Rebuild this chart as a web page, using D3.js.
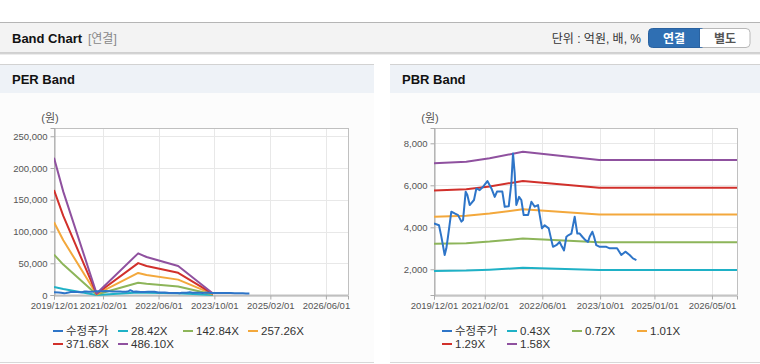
<!DOCTYPE html>
<meta charset="utf-8">
<style>
body { margin: 0; background: #fff; font-family: "Liberation Sans", "Noto Sans CJK KR", sans-serif; }
svg text { font-family: "Liberation Sans", "Noto Sans CJK KR", sans-serif; }
.tick text { fill: #555; font-size: 9.5px; }
.grid line { stroke: #e8e8e8; }
.legend text { fill: #333; font-size: 11.5px; }
</style>
<body>
<svg id="chart" width="760" height="364"></svg>
<script src="https://d3js.org/d3.v7.min.js"></script>
<script>
// ---- data ----
// 수정주가 (adjusted price), shared by both charts
var priceDates = ["2019-12-01","2020-01-12","2020-02-01","2020-02-29","2020-03-14","2020-03-28","2020-04-25","2020-05-23",
  "2020-06-21","2020-07-19","2020-08-02","2020-08-24","2020-09-07","2020-09-27","2020-11-02","2020-11-22","2020-12-20",
  "2021-01-17","2021-02-23","2021-03-29","2021-04-26","2021-05-15","2021-06-29","2021-07-19","2021-08-22","2021-09-13",
  "2021-09-27","2021-10-11","2021-10-25","2021-11-17","2021-12-06","2021-12-26","2022-02-01","2022-03-01","2022-03-29",
  "2022-04-26","2022-05-29","2022-06-21","2022-07-25","2022-08-16","2022-08-30","2022-09-27","2022-10-25","2022-11-14",
  "2022-12-01","2022-12-21","2023-01-09","2023-02-01","2023-03-01","2023-03-23","2023-04-12","2023-05-04","2023-05-30",
  "2023-06-21","2023-07-05","2023-07-28","2023-08-11","2023-08-30","2023-09-28","2023-11-23","2023-12-21","2024-02-21",
  "2024-03-28","2024-05-01","2024-06-06","2024-07-04","2024-08-02"];
var priceValues = [4190,4100,3555,2680,3000,3555,4743,4660,
  4580,4270,4350,5695,5540,5060,5300,5850,5770,
  5930,6200,5850,5450,5700,5700,4980,5000,6110,
  7520,6580,5060,5450,5300,4580,4580,5220,4980,
  5060,3950,4100,3950,3400,3070,3150,3300,3070,
  2900,3550,3630,3700,4500,3700,3700,3550,3390,
  3300,3550,3790,3550,3150,3070,3070,3000,3000,
  2680,2840,2680,2520,2440];

// PER band
var perDates = ["2019-12-01","2020-02-20","2020-12-07","2021-12-05","2022-02-16","2022-11-19","2023-09-19"];
var perLabels = ["28.42X","142.84X","257.26X","371.68X","486.10X"];
var per1 = [12600, 9500, 140, 3800, 3500, 2700, 140];
var per2 = [63600, 47900, 700, 19300, 17600, 13400, 700];
var per3 = [114500, 86200, 1300, 34700, 31600, 24200, 1300];
var per4 = [165400, 124500, 1900, 50200, 45700, 34900, 1900];
var per5 = [216300, 162800, 2400, 65600, 59800, 45700, 2400];
var perTicksY = [0, 50000, 100000, 150000, 200000, 250000];
var perTicksX = ["2019-12-01","2021-02-01","2022-06-01","2023-10-01","2025-02-01","2026-06-01"];

// PBR band
var pbrDates = ["2019-12-01","2020-08-29","2021-03-14","2021-12-19","2023-09-23","2026-12-31"];
var pbrLabels = ["0.43X","0.72X","1.01X","1.29X","1.58X"];
var pbr1 = [1918, 1939, 1983, 2068, 1961, 1961];
var pbr2 = [3212, 3246, 3320, 3463, 3283, 3283];
var pbr3 = [4506, 4554, 4657, 4858, 4606, 4606];
var pbr4 = [5755, 5817, 5948, 6205, 5882, 5882];
var pbr5 = [7048, 7124, 7285, 7600, 7205, 7205];
var pbrTicksY = [2000, 4000, 6000, 8000];
var pbrTicksX = ["2019-12-01","2021-02-01","2022-06-01","2023-10-01","2025-01-01","2026-05-01"];

var colors = ["#2e75c8", "#1fb1c6", "#8db55a", "#f3a83c", "#d1302b", "#8f519f"];

var parse = d3.timeParse("%Y-%m-%d");
var svg = d3.select("#chart");

// ---- page chrome ----
svg.append("rect").attr("x", 0).attr("y", 22).attr("width", 760).attr("height", 31).attr("fill", "#f3f3f3");
svg.append("line").attr("x1", 0).attr("x2", 760).attr("y1", 22.5).attr("y2", 22.5).attr("stroke", "#b5b5b5");
svg.append("line").attr("x1", 0).attr("x2", 760).attr("y1", 53).attr("y2", 53).attr("stroke", "#c4c4c4").attr("stroke-width", 1.5);
svg.append("line").attr("x1", 0).attr("x2", 760).attr("y1", 54.5).attr("y2", 54.5).attr("stroke", "#ececec");
svg.append("text").attr("x", 12).attr("y", 43).attr("font-size", 13).attr("font-weight", "bold").attr("fill", "#111").text("Band Chart");
svg.append("text").attr("x", 88).attr("y", 43).attr("font-size", 12).attr("fill", "#888").text("[연결]");
svg.append("text").attr("x", 641).attr("y", 42.5).attr("font-size", 12).attr("fill", "#333").attr("text-anchor", "end").text("단위 : 억원, 배, %");

var btn = svg.append("g");
btn.append("rect").attr("x", 699).attr("y", 28.5).attr("width", 51).attr("height", 19).attr("rx", 4)
  .attr("fill", "#fff").attr("stroke", "#b8b8b8");
btn.append("rect").attr("x", 648.5).attr("y", 28.5).attr("width", 56).attr("height", 19).attr("rx", 4)
  .attr("fill", "#2f6fb3").attr("stroke", "#2a62a0");
btn.append("rect").attr("x", 699).attr("y", 29).attr("width", 6).attr("height", 18).attr("fill", "#fff");
btn.append("line").attr("x1", 699.5).attr("x2", 699.5).attr("y1", 28.5).attr("y2", 47.5).attr("stroke", "#2a62a0");
btn.append("text").attr("x", 674).attr("y", 42.5).attr("text-anchor", "middle").attr("font-size", 12)
  .attr("font-weight", "bold").attr("fill", "#fff").text("연결");
btn.append("text").attr("x", 725).attr("y", 42.5).attr("text-anchor", "middle").attr("font-size", 12)
  .attr("font-weight", "bold").attr("fill", "#555").text("별도");

// ---- panels ----
function drawPanel(px, pw, title) {
  var g = svg.append("g");
  g.append("rect").attr("x", px).attr("y", 64).attr("width", pw).attr("height", 299).attr("fill", "#fcfcfc");
  g.append("rect").attr("x", px).attr("y", 64).attr("width", pw).attr("height", 29).attr("fill", "#eef2f7");
  g.append("line").attr("x1", px).attr("x2", px + pw).attr("y1", 64.5).attr("y2", 64.5).attr("stroke", "#d2d2d2");
  g.append("line").attr("x1", px).attr("x2", px + pw).attr("y1", 362.5).attr("y2", 362.5).attr("stroke", "#d8d8d8");
  g.append("text").attr("x", px + 12).attr("y", 84).attr("font-size", 13).attr("font-weight", "bold")
    .attr("fill", "#111").text(title);
}
drawPanel(0, 374, "PER Band");
drawPanel(390, 370, "PBR Band");

function drawChart(opt) {
  var x = d3.scaleTime().domain(opt.xDomain.map(parse)).range([opt.x0, opt.x1]);
  var y = d3.scaleLinear().domain(opt.yDomain).range([295, 128]);
  var g = svg.append("g");

  g.append("rect").attr("x", opt.x0).attr("y", 128).attr("width", opt.x1 - opt.x0).attr("height", 167).attr("fill", "#fff");

  var grid = g.append("g").attr("class", "grid");
  grid.selectAll("line.gx").data(opt.ticksX.map(parse)).enter().append("line")
    .attr("x1", function(d) { return Math.round(x(d)) + 0.5; })
    .attr("x2", function(d) { return Math.round(x(d)) + 0.5; })
    .attr("y1", 128).attr("y2", 295);
  grid.selectAll("line.gy").data(opt.ticksY).enter().append("line")
    .attr("x1", opt.x0).attr("x2", opt.x1)
    .attr("y1", function(d) { return Math.round(y(d)) + 0.5; })
    .attr("y2", function(d) { return Math.round(y(d)) + 0.5; });

  g.append("rect").attr("x", opt.x0 + 0.5).attr("y", 128.5).attr("width", opt.x1 - opt.x0).attr("height", 166.5)
    .attr("fill", "none").attr("stroke", "#c0c0c0");

  var xAxis = g.append("g").attr("transform", "translate(0,295.5)")
    .call(d3.axisBottom(x).tickValues(opt.ticksX.map(parse)).tickFormat(d3.timeFormat("%Y/%m/%d")).tickSize(4).tickPadding(3));
  var yAxis = g.append("g").attr("transform", "translate(" + (opt.x0 + 0.5) + ",0)")
    .call(d3.axisLeft(y).tickValues(opt.ticksY).tickFormat(d3.format(",")).tickSize(4).tickPadding(3));
  [xAxis, yAxis].forEach(function(a) {
    a.select(".domain").attr("stroke", "#aaa");
    a.selectAll(".tick line").attr("stroke", "#aaa");
  });

  g.append("text").attr("x", opt.x0 - 4).attr("y", 122).attr("text-anchor", "middle").attr("font-size", 11)
    .attr("fill", "#555").text("(원)");

  var clipId = "clip" + opt.x0;
  g.append("clipPath").attr("id", clipId).append("rect")
    .attr("x", opt.x0).attr("y", 126).attr("width", opt.x1 - opt.x0).attr("height", 170);

  var line = d3.line()
    .x(function(d) { return x(d.date); })
    .y(function(d) { return y(d.value); });

  var plot = g.append("g").attr("clip-path", "url(#" + clipId + ")");
  // bands first, price on top in the PBR chart
  opt.series.forEach(function(s, i) {
    if (i === 0) return;
    var pts = s.dates.map(function(d, j) { return { date: parse(d), value: s.values[j] }; });
    plot.append("path").attr("d", line(pts)).attr("fill", "none")
      .attr("stroke", colors[i]).attr("stroke-width", 2).attr("stroke-linejoin", "round");
  });
  var p0 = opt.series[0];
  plot.append("path")
    .attr("d", line(p0.dates.map(function(d, j) { return { date: parse(d), value: p0.values[j] }; })))
    .attr("fill", "none").attr("stroke", colors[0]).attr("stroke-width", 2).attr("stroke-linejoin", "round");

  // legend
  var lg = g.append("g").attr("class", "legend");
  var names = ["수정주가"].concat(opt.labels);
  names.forEach(function(n, i) {
    var row = i < 4 ? 0 : 1;
    var col = i < 4 ? i : i - 4;
    var lx = opt.legendX + col * 65;
    var ly = row === 0 ? 331 : 344;
    lg.append("line").attr("x1", lx).attr("x2", lx + 10).attr("y1", ly).attr("y2", ly)
      .attr("stroke", colors[i]).attr("stroke-width", 2);
    lg.append("text").attr("x", lx + 13).attr("y", ly + 4).text(n);
  });
}

drawChart({
  x0: 54, x1: 348,
  xDomain: ["2019-12-01", "2026-12-11"],
  yDomain: [0, 263000],
  ticksX: perTicksX, ticksY: perTicksY,
  labels: perLabels,
  legendX: 53,
  series: [
    { dates: priceDates, values: priceValues },
    { dates: perDates, values: per1 },
    { dates: perDates, values: per2 },
    { dates: perDates, values: per3 },
    { dates: perDates, values: per4 },
    { dates: perDates, values: per5 }
  ]
});

drawChart({
  x0: 434, x1: 737,
  xDomain: ["2019-12-01", "2026-11-28"],
  yDomain: [776, 8729],
  ticksX: pbrTicksX, ticksY: pbrTicksY,
  labels: pbrLabels,
  legendX: 442,
  series: [
    { dates: priceDates, values: priceValues },
    { dates: pbrDates, values: pbr1 },
    { dates: pbrDates, values: pbr2 },
    { dates: pbrDates, values: pbr3 },
    { dates: pbrDates, values: pbr4 },
    { dates: pbrDates, values: pbr5 }
  ]
});
</script>
</body>
